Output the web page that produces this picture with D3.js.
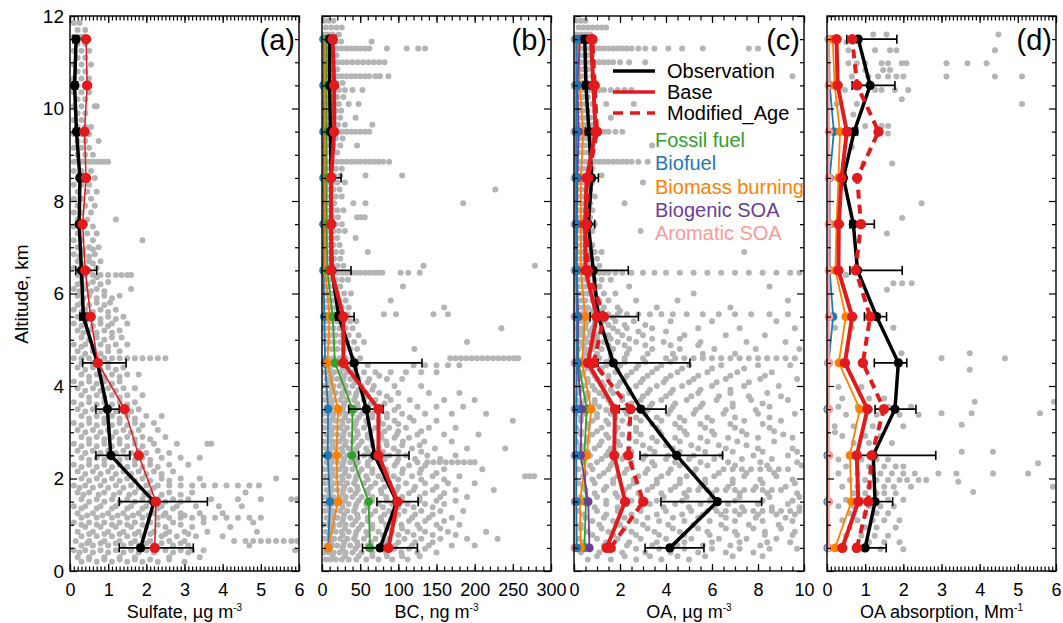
<!DOCTYPE html>
<html>
<head>
<meta charset="utf-8">
<script src="https://cdn.jsdelivr.net/npm/d3@7"></script>
<style>
  body { margin: 0; background: #fff; }
  svg { font-family: "Liberation Sans", Arial, sans-serif; }
</style>
</head>
<body>
<div id="chart-area"></div>
<script>
// altitude bins, km
const altitudes = [0.5, 1.5, 2.5, 3.5, 4.5, 5.5, 6.5, 7.5, 8.5, 9.5, 10.5, 11.5];

// (a) sulfate, ug m-3
const sulfateObs  = [1.85, 2.2, 1.07, 0.98, 0.72, 0.35, 0.3, 0.24, 0.26, 0.17, 0.12, 0.16];
const sulfateLo   = [1.29, 1.29, 0.68, 0.68, 0.33, 0.26, 0.15, 0.2, 0.2, 0.12, 0.06, 0.08];
const sulfateHi   = [3.23, 3.6, 1.57, 1.29, 1.47, 0.45, 0.7, 0.32, 0.35, 0.24, 0.2, 0.22];
const sulfateBase = [2.22, 2.25, 1.8, 1.43, 0.73, 0.54, 0.4, 0.33, 0.42, 0.38, 0.45, 0.42];

// (b) BC, ng m-3
const bcObs     = [76, 98, 69, 58, 42, 22, 13, 12, 12, 11, 10, 10];
const bcLo      = [53, 72, 48, 35, 30, 18, 10, 9, 9, 9, 8, 8];
const bcHi      = [125, 126, 114, 80, 131, 42, 38, 15, 25, 15, 14, 18];
const bcBase    = [87, 99, 74, 74, 28, 28, 12, 12, 12, 16, 16, 14];
const bcFossil  = [63, 61, 39, 40, 17, 14, 7, 6, 6, 6, 6, 6];
const bcBiofuel = [8, 10.5, 7.5, 8, 4, 3, 2, 2, 2, 2, 2, 2];
const bcBiomass = [8, 21, 19, 21, 7, 10, 4, 4, 4, 4, 4, 4];

// (c) OA, ug m-3
const oaObs       = [4.17, 6.23, 4.46, 2.91, 1.71, 1.06, 0.84, 0.62, 0.77, 0.65, 0.52, 0.47];
const oaLo        = [3.09, 3.78, 2.87, 1.97, 1.05, 0.7, 0.5, 0.45, 0.55, 0.5, 0.4, 0.35];
const oaHi        = [5.65, 8.16, 6.46, 4.0, 5.04, 2.8, 2.36, 0.9, 1.06, 0.85, 0.7, 0.6];
const oaBase      = [1.42, 2.22, 1.75, 1.78, 0.6, 0.99, 0.5, 0.48, 0.55, 0.94, 0.84, 0.74];
const oaModAge    = [1.59, 3.01, 2.36, 2.46, 0.86, 1.3, 0.6, 0.55, 0.62, 1.0, 0.9, 0.8];
const oaFossil    = [0.45, 0.52, 0.45, 0.55, 0.2, 0.15, 0.1, 0.1, 0.1, 0.1, 0.1, 0.1];
const oaBiofuel   = [0.12, 0.1, 0.1, 0.1, 0.12, 0.12, 0.1, 0.1, 0.1, 0.1, 0.12, 0.12];
const oaBiomass   = [0.3, 0.25, 0.55, 0.75, 0.35, 0.48, 0.3, 0.3, 0.3, 0.4, 0.25, 0.2];
const oaBiogenic  = [0.67, 0.62, 0.29, 0.33, 0.15, 0.18, 0.12, 0.12, 0.15, 0.2, 0.15, 0.26];
const oaAromatic  = [0.03, 0.03, 0.03, 0.03, 0.03, 0.03, 0.03, 0.03, 0.03, 0.03, 0.03, 0.03];

// (d) OA absorption, Mm-1
const absObs      = [1.0, 1.26, 1.21, 1.78, 1.87, 1.3, 0.8, 0.69, 0.43, 0.71, 1.13, 0.82];
const absLo       = [0.72, 1.04, 0.82, 1.26, 1.24, 0.98, 0.6, 0.6, 0.38, 0.6, 0.66, 0.52];
const absHi       = [1.55, 1.72, 2.85, 2.33, 2.09, 1.56, 1.97, 1.24, 0.5, 0.8, 1.78, 1.83];
const absBase     = [0.4, 0.82, 0.78, 1.06, 0.47, 0.66, 0.3, 0.31, 0.38, 0.52, 0.28, 0.25];
const absModAge   = [0.78, 1.08, 1.17, 1.49, 0.94, 1.13, 0.75, 0.89, 0.79, 1.35, 0.79, 0.66];
const absBiofuel  = [0.02, 0.02, 0.02, 0.02, 0.04, 0.16, 0.07, 0.07, 0.07, 0.18, 0.07, 0.05];
const absBiomass  = [0.21, 0.64, 0.6, 0.86, 0.31, 0.49, 0.22, 0.25, 0.3, 0.34, 0.2, 0.15];
const absAromatic = [0.05, 0.05, 0.05, 0.05, 0.05, 0.05, 0.05, 0.05, 0.05, 0.05, 0.05, 0.05];

// individual observations, "altitude: values"
const sulfateDots = `
0.2: 0.3 0.7 1.1 1.5 1.9 2.3 3.0
0.3: 0.2 0.5 0.9 1.3 1.7 2.6 3.4
0.45: 0.1 0.4 0.8 1.2 1.6 2.0 2.5 2.9 3.2 3.5 5.9
0.55: 0.3 0.6 1.0 1.4 1.8 2.2 2.7 3.1 4.7
0.65: 0.15 0.5 0.9 1.3 1.7 2.1 2.6 3.0 4.3 4.6 4.8 5.0 5.2 5.4 5.6 5.8 5.95
0.75: 0.3 0.7 1.1 1.5 1.9 2.4 2.8 3.3 4.0
0.85: 0.2 0.6 1.0 1.4 1.8 2.2 2.6 3.0 3.6 4.9
0.95: 0.4 0.8 1.2 1.6 2.0 2.5 3.2 4.2
1.05: 0.1 0.5 0.9 1.3 1.7 2.1 2.7 3.5 4.8
1.15: 0.3 0.7 1.1 1.5 1.9 2.3 2.6 2.9 3.2 3.5 3.8 4.1 4.4 4.7 5.0
1.25: 0.2 0.6 1.0 1.4 1.8 2.2 2.5 2.9 3.4 4.0
1.4: 0.1 0.4 0.8 1.2 1.6 2.0 2.4 2.8 3.3 3.9 4.5
1.55: 0.3 0.7 1.1 1.5 1.9 2.3 2.7 3.1 3.7 4.4 5.0 5.8 5.95
1.7: 0.2 0.5 0.9 1.3 1.7 2.1 2.6 3.2 4.6
1.85: 0.1 0.4 0.8 1.2 1.6 2.0 2.3 2.6 2.9 3.2 3.5 3.8 4.1 4.4 4.7 4.95
2.0: 0.3 0.7 1.1 1.5 1.9 2.4 2.9 3.4 5.4
2.15: 0.2 0.6 1.0 1.4 1.8 2.2 2.7
2.3: 0.1 0.5 0.9 1.3 1.7 2.1 2.6 3.1
2.45: 0.3 0.7 1.1 1.5 1.9 2.4 2.9 3.4
2.6: 0.2 0.6 1.0 1.4 1.8 2.3
2.75: 0.1 0.5 0.9 1.3 1.7 2.2 2.8 3.6 3.7
2.9: 0.3 0.7 1.1 1.5 1.9 2.5
3.05: 0.2 0.6 1.0 1.4 1.8 2.3
3.2: 0.1 0.5 0.9 1.3 1.7 2.2
3.35: 0.3 0.7 1.1 1.5 2.0 2.4
3.5: 0.2 0.6 1.0 1.4 1.8
3.65: 0.1 0.5 0.9 1.3 1.7
3.8: 0.3 0.7 1.1 1.5 1.9
3.95: 0.2 0.6 1.0 1.4 1.7
4.1: 0.1 0.5 0.9 1.3
4.25: 0.3 0.7 1.1 1.5 1.8
4.4: 0.2 0.6 1.0 1.4
4.6: 0.1 0.3 0.5 0.7 0.9 1.1 1.3 1.5 1.7 1.9 2.1 2.3 2.5
4.75: 0.2 0.6 1.0 1.3
4.9: 0.1 0.4 0.8 1.2 1.5
5.05: 0.3 0.7 1.1 1.35
5.2: 0.2 0.5 0.9 1.3
5.35: 0.1 0.4 0.8 1.1 1.5
5.5: 0.2 0.6 1.0 1.4
5.65: 0.1 0.4 0.8 1.2
5.8: 0.3 0.7 1.05
5.95: 0.2 0.5 0.9 1.3
6.1: 0.1 0.4 0.7 1.6
6.25: 0.3 0.6 1.0
6.4: 0.2 0.4 0.6 0.8 1.0 1.2 1.35 1.5 1.6
6.55: 0.1 0.4 0.7
6.7: 0.2 0.5 0.8
6.85: 0.1 0.35 0.65
7.0: 0.2 0.5 0.75
7.15: 0.1 0.3 0.6 1.9
7.3: 0.2 0.45 0.7
7.45: 0.1 0.35 0.6
7.6: 0.2 0.45 1.2
7.75: 0.1 0.3 0.55
7.9: 0.2 0.4 0.65
8.05: 0.1 0.3 0.55
8.2: 0.2 0.45 0.7
8.35: 0.1 0.3 0.5
8.5: 0.2 0.4 0.65
8.65: 0.1 0.3 0.55
8.85: 0.1 0.2 0.3 0.4 0.5 0.6 0.7 0.8 0.9 1.0
9.0: 0.2 0.4 0.6
9.15: 0.1 0.3 0.5
9.3: 0.2 0.4 0.75
9.45: 0.1 0.3 0.5
9.6: 0.2 0.4 0.55
9.75: 0.1 0.3
9.9: 0.2 0.4
10.05: 0.1 0.3 0.65 0.7
10.2: 0.2 0.4
10.35: 0.1 0.3 0.5
10.5: 0.2 0.4
10.65: 0.1 0.3 0.5
10.8: 0.2 0.4
10.95: 0.1 0.3 0.55
11.1: 0.2 0.4
11.25: 0.1 0.3 0.5
11.4: 0.2 0.4
11.55: 0.1 0.3
11.7: 0.2 0.4
11.85: 0.1 0.25`;

const sulfateDotsMore = `
0.25: 0.5 0.9 1.3 1.7 2.1 2.6
0.4: 0.25 0.6 1.0 1.4 1.8 2.2 2.7 3.1
0.6: 0.45 0.8 1.2 1.6 2.0 2.4 2.9
0.8: 0.5 0.9 1.3 1.7 2.1 2.5 3.1
1.0: 0.3 0.7 1.1 1.5 1.9 2.3 2.9
1.2: 0.45 0.85 1.25 1.65 2.05 2.45 3.0
1.35: 0.3 0.7 1.1 1.5 1.9 2.3 2.7
1.5: 0.5 0.9 1.3 1.7 2.1 2.5 2.9
1.65: 0.35 0.75 1.15 1.55 1.95 2.4 2.9
1.8: 0.25 0.6 1.0 1.4 1.8 2.2
1.95: 0.5 0.9 1.3 1.7 2.1 2.6
2.1: 0.4 0.8 1.2 1.6 2.0 2.4
2.25: 0.3 0.7 1.1 1.5 1.9 2.3
2.4: 0.5 0.9 1.3 1.7 2.1
2.55: 0.4 0.8 1.2 1.6 2.0 2.6
2.7: 0.3 0.7 1.1 1.5 1.9
2.85: 0.5 0.9 1.3 1.7 2.1
3.0: 0.4 0.8 1.2 1.6
3.15: 0.3 0.7 1.1 1.5 1.9
3.3: 0.5 0.9 1.3 1.7
3.45: 0.4 0.8 1.2 1.6
3.6: 0.3 0.7 1.1 1.5
3.75: 0.5 0.9 1.3
3.9: 0.4 0.8 1.2
4.05: 0.3 0.7 1.1
4.2: 0.5 0.9 1.3
4.35: 0.4 0.8 1.2
4.5: 0.3 0.6 1.0
4.7: 0.4 0.8
4.85: 0.3 0.6 1.0
5.0: 0.5 0.9
5.15: 0.35 0.7 1.1
5.3: 0.3 0.6 1.0
5.45: 0.4 0.8 1.2
5.6: 0.3 0.6 1.0
5.75: 0.2 0.5 0.9
5.9: 0.35 0.7 1.1
6.05: 0.25 0.55 0.9
6.2: 0.2 0.45 0.8
6.35: 0.3 0.7
6.5: 0.25 0.5
6.65: 0.3 0.6
6.8: 0.25 0.5
6.95: 0.35 0.6`;

const bcDots = `
0.25: 5 11 18 26 35 45 58 74 92 112
0.4: 2 8 15 23 31 40 52 66 84 104 125 150
0.55: 6 13 20 28 37 47 60 77 96 118 140 170 200
0.7: 3 9 16 24 33 42 55 70 88 108 130 155 190 230
0.85: 5 11 18 26 35 45 58 74 92 112 135 165 215
1.0: 2 8 15 23 31 40 52 66 84 104 125 150 180
1.15: 6 13 20 28 37 47 60 77 96 118 140 170
1.3: 3 9 16 24 33 42 55 70 88 108 130 155 185
1.45: 5 11 18 26 35 45 58 74 92 112 135 160
1.6: 2 8 15 23 31 40 52 66 84 105 128 155 190
1.75: 6 13 20 28 37 47 60 77 98 120 145 175 225
1.9: 3 9 16 24 33 42 55 70 88 110 135 165 200
2.05: 5 11 18 26 35 45 58 74 94 118 145 180 266 272 278
2.2: 2 8 15 23 31 40 52 66 84 106 130 160 210
2.35: 6 13 20 28 37 47 60 77 98 125 138 146 154 162 170 178 186 194 200
2.5: 3 9 16 24 33 42 55 70 88 110 138 175
2.65: 5 11 18 26 35 45 58 74 94 118 148 190 240
2.8: 2 8 15 23 31 40 52 66 84 106 134 170
2.95: 6 13 20 28 37 47 60 77 98 125 160 205
3.1: 3 9 16 24 33 42 55 70 88 110 140 175
3.25: 5 11 18 26 35 45 58 74 95 120 150 250
3.4: 2 8 15 23 31 40 52 66 85 105 135 170 215
3.55: 6 13 20 28 37 47 60 78 100 125 150 185
3.7: 3 9 16 24 33 42 55 70 90 115 160 200
3.85: 5 11 18 26 35 45 58 75 100 140 180
4.0: 2 8 15 23 31 40 52 68 95 130
4.15: 6 13 20 28 37 48 62 85 105
4.3: 3 9 16 24 33 42 55 70 90 110 130 150
4.45: 5 11 18 26 35 44 60 120 135 150 165 180
4.6: 2 8 15 23 31 40 50 168 175 182 189 196 203 210 217 224 231 238 245 252 257
4.8: 6 13 20 28 37 46 121
4.95: 3 9 16 24 33 42 55 190
5.1: 5 11 18 26 35 48
5.25: 2 8 15 23 31 40 235
5.4: 6 13 20 28 37 45
5.55: 3 9 16 24 33 81 97 146 165
5.7: 5 11 18 26 35 160
5.85: 2 8 15 23 31 90
6.0: 6 13 20 29 38
6.15: 3 9 16 24 106
6.3: 5 11 18 26 34
6.45: 2 8 14 20 26 32 38 44 50 56 62 68 74 79 103 113 128
6.6: 6 13 20 28 133 279
6.75: 3 9 16 24
6.9: 5 11 18 26 60
7.05: 2 8 15 23
7.2: 6 13 20 44
7.35: 3 9 15 22 30
7.5: 5 11 18 26
7.65: 2 8 14 21 46 51 56
7.8: 6 13 20 28
7.95: 3 9 16 41 57 185
8.1: 5 11 18 26
8.25: 2 8 15 23 227
8.4: 6 13 20 30
8.55: 3 9 16 24 57 105
8.7: 5 11 18 26
8.85: 2 8 14 20 26 32 38 44 50 56 62 68 74 80 88
9.05: 6 13 20
9.2: 3 9 15 24 46
9.35: 5 11 18 27
9.5: 2 8 14 20 26 32 38 44 50 56 62
9.65: 6 13 21 30 66
9.8: 3 9 16 24 44
9.95: 5 11 18 25
10.1: 2 8 14 22 35 48
10.25: 6 13 20 28
10.4: 3 9 15 22 30 40 53
10.55: 5 12 19 27
10.7: 2 8 14 20 26 32 38 44 50 56 62 70 76 87
10.85: 6 13 20
11.0: 3 9 15 21 27 33 40 47 54 61 68 75 82
11.15: 5 12 19
11.3: 2 8 14 20 26 32 38 44 50 56 62 85 111 126 135
11.45: 4 11 18 25 65
11.6: 2 8 14 22
11.75: 5 12 19 26
11.9: 3 9 15`;

const bcDotsMore = `
0.32: 14 30 48 66 85 105 128
0.48: 10 27 44 60 78 95 114 135
0.62: 12 29 46 64 82 100 122 145
0.78: 10 27 44 60 80 100 120 145 175
0.92: 14 30 48 66 85 105 128 155
1.08: 10 27 44 60 78 95 114 135 160
1.22: 12 29 46 64 82 100 122 145
1.38: 10 27 44 60 80 100 120 145
1.52: 14 30 48 66 85 105 128 150 175
1.68: 10 27 44 60 78 95 114 135 160
1.82: 12 29 46 64 82 100 122 150
1.98: 10 27 44 60 80 100 130 160
2.12: 14 30 48 66 85 105 128 150
2.28: 10 27 44 60 78 95 114 135
2.42: 12 29 46 64 82 100 122 155
2.58: 10 27 44 60 80 100 130
2.72: 14 30 48 66 85 105 128
2.88: 10 27 44 60 78 95 114
3.02: 12 29 46 64 82 100 130
3.18: 10 27 44 60 80 100
3.32: 14 30 48 66 85 115
3.48: 10 27 44 60 78 95
3.62: 12 29 46 64 82
3.78: 10 27 44 60 85
3.92: 14 30 48 66
4.08: 10 27 44 60
4.22: 12 29 46 75
4.38: 10 27 44
4.52: 14 30 45`;

const oaDots = `
0.25: 0.6 1.6 2.7 3.8 5.0
0.4: 0.3 1.1 2.1 3.1 4.2 5.4 6.6 7.8
0.55: 0.5 1.3 2.3 3.4 4.5 5.6 6.8 8.1
0.7: 0.2 1.0 1.9 2.9 4.0 5.1 6.3 7.5 8.8
0.85: 0.6 1.5 2.5 3.5 4.6 5.8 7.0 8.3 9.6
1.0: 0.3 1.1 2.0 3.0 4.1 5.2 6.4 7.6 8.9
1.15: 0.5 1.3 2.2 3.2 4.3 5.4 6.6 7.9 9.2
1.3: 0.2 1.0 1.9 2.9 4.0 5.1 5.8 6.2 6.6 7.0 7.4 7.8 8.2 8.6 9.0 9.4 9.8
1.45: 0.6 1.4 2.3 3.3 4.4 5.5 6.7 8.0 9.3
1.6: 0.3 1.0 1.9 2.9 3.9 4.9 6.0 7.2 8.5 9.8
1.75: 0.5 1.3 2.2 3.2 4.2 5.0 5.4 5.8 6.2 6.6 7.0 7.4 7.8 8.2 8.6 9.0
1.9: 0.2 0.9 1.7 2.6 3.6 4.6 5.7 6.9 8.2 9.6
2.05: 0.4 1.1 1.9 2.8 3.8 4.9 6.1 7.4 8.8
2.2: 0.2 0.8 1.5 2.3 3.2 4.2 5.3 6.5 6.9 7.3 7.7 8.1 8.5 8.9 9.3
2.35: 0.4 1.0 1.7 2.5 3.4 4.4 5.5 6.7 8.1 9.7
2.5: 0.1 0.7 1.4 2.2 3.1 4.1 5.2 6.4 7.8 9.3
2.65: 0.3 0.9 1.6 2.4 3.3 4.3 5.4 6.6 8.0 9.5
2.8: 0.1 0.6 1.2 1.9 2.7 3.6 4.6 5.8 7.1 8.7
2.95: 0.3 0.8 1.4 2.1 2.9 3.8 4.9 6.1 7.5 9.1
3.1: 0.1 0.6 1.2 1.9 2.7 3.6 4.6 5.7 7.0 8.5
3.25: 0.3 0.8 1.4 2.1 2.9 3.8 4.8 6.0 7.4 9.0
3.4: 0.1 0.5 1.0 1.6 2.3 3.1 4.1 5.2 6.5 8.0 9.6
3.55: 0.2 0.6 1.1 1.7 2.4 3.3 4.3 5.5 6.9 8.5
3.7: 0.1 0.5 0.9 1.5 2.1 2.9 3.8 4.9 6.2 7.7 9.3
3.85: 0.2 0.6 1.1 1.7 2.4 3.2 4.2 5.4 6.8 8.4
4.0: 0.1 0.4 0.8 1.3 1.9 2.7 3.6 4.7 6.0 7.4 8.9
4.15: 0.2 0.6 1.0 1.5 2.2 3.0 4.0 5.2 6.6 8.1 9.7
4.3: 0.1 0.4 0.8 1.2 1.8 2.5 3.4 4.5 5.8 7.1 8.6
4.45: 0.2 0.5 0.9 1.4 2.0 2.8 3.8 5.0 6.4 8.0 9.4
4.6: 0.1 0.4 0.7 1.1 1.6 2.2 3.0 4.0 4.4 4.8 5.2 5.6 6.0 6.4 6.8 7.2 7.6 8.0 8.4 8.8 9.2 9.6
4.8: 0.2 0.5 0.8 1.2 1.7 2.4 3.4 4.6 6.1 7.9 9.8
4.95: 0.1 0.3 0.6 0.9 1.3 1.9 2.7 3.9 5.5 7.5 9.2
5.1: 0.2 0.4 0.7 1.0 1.5 2.1 3.0 4.8 6.6 8.3
5.25: 0.1 0.3 0.5 0.8 1.2 1.7 2.3 3.4 5.4 7.2 9.6
5.4: 0.2 0.4 0.6 0.9 1.3 1.8 2.6 4.2 6.0 8.8
5.55: 0.1 0.3 0.5 0.7 0.9 1.2 1.5 1.9 2.3 2.8 3.3 3.8 4.3 4.9 5.6 6.3 7.0 7.7 8.5 9.3
5.7: 0.2 0.4 0.6 0.9 1.3 1.9 3.6 6.8
5.85: 0.1 0.3 0.5 0.8 1.1 1.5 2.7 4.5 9.3
6.0: 0.2 0.4 0.6 0.9 1.3 1.8 5.2
6.15: 0.1 0.3 0.5 0.8 1.1 2.4 8.5
6.3: 0.2 0.4 0.6 0.9 1.2 1.6
6.45: 0.1 0.3 0.5 0.7 0.9 1.1 1.3 1.5 1.8 2.1 2.5 3.0 3.5 4.0 4.6 5.2 5.8 6.4 7.0 7.6 8.2 8.8 9.4 9.8
6.6: 0.2 0.4 0.6 0.8 1.1
6.75: 0.1 0.3 0.5 0.7 1.0
6.9: 0.2 0.4 0.6 0.9 1.2 7.4
7.05: 0.1 0.3 0.5 0.8
7.2: 0.2 0.4 0.6
7.35: 0.1 0.3 0.5 0.8 2.9
7.5: 0.2 0.4 0.6 0.9
7.65: 0.1 0.3 0.5 0.7
7.8: 0.2 0.4 0.6 0.8
7.95: 0.1 0.3 0.5 0.7 2.2
8.1: 0.2 0.4 0.6 0.9
8.25: 0.1 0.3 0.5 0.7
8.4: 0.2 0.4 0.6 0.8 3.0
8.55: 0.1 0.3 0.5 0.7 1.2
8.7: 0.2 0.4 0.6 0.8
8.85: 0.1 0.3 0.5 0.7 0.9 1.1 1.3 1.5 1.7 1.9 2.1 2.3 2.5 2.8 3.2
9.05: 0.2 0.4 0.6
9.2: 0.1 0.3 0.5 0.7 3.4
9.35: 0.2 0.4 0.6 0.8
9.5: 0.1 0.3 0.5 0.7 0.9 1.1 1.3 1.5 1.8 2.1
9.65: 0.2 0.4 0.6 0.8
9.8: 0.1 0.3 0.5 0.7 1.6
9.95: 0.2 0.4 0.6 0.9
10.1: 0.1 0.3 0.5 0.8 1.4 2.6
10.25: 0.2 0.4 0.6
10.4: 0.1 0.3 0.5 0.7 0.9 1.1 1.3 1.6 1.9 2.2 2.5
10.55: 0.2 0.4 0.6 0.9
10.7: 0.1 0.3 0.5 0.8 9.5
10.85: 0.2 0.4 0.6
11.0: 0.1 0.3 0.5 0.7 0.9 1.1 1.3 1.5 1.7 2.0 2.4 3.1
11.15: 0.2 0.4 0.6 0.8
11.3: 0.1 0.3 0.5 0.7 0.9 1.1 1.3 1.5 1.7 1.9 2.1 2.3 2.5 2.8 3.1 3.5 4.1 4.7 5.6 7.6 8.0
11.45: 0.2 0.4 0.6 0.9
11.6: 0.1 0.3 0.5 0.7
11.75: 0.2 0.4 0.6 0.8 1.0 1.2 1.4
11.9: 0.1 0.3 0.5`;

const oaDotsMore = `
0.32: 1.0 2.2 3.3 4.5 5.7 6.9 8.2
0.48: 0.7 1.7 2.7 3.7 4.8 6.0 7.2 8.5 9.7
0.62: 0.4 1.4 2.4 3.6 4.8 6.0 7.2 8.4 9.4
0.78: 0.8 1.7 2.7 3.7 4.8 5.9 7.1 8.3 9.5
0.92: 0.3 1.2 2.2 3.2 4.3 5.4 6.6 7.8 9.0
1.08: 0.8 1.7 2.7 3.7 4.8 5.9 7.0 8.2 9.5
1.22: 0.4 1.4 2.5 3.6 4.7 5.6 6.4 7.2 8.0 8.8 9.6
1.38: 0.9 1.9 2.9 3.9 5.0 6.1 7.3 8.6 9.8
1.52: 0.4 1.4 2.5 3.6 4.7 5.9 7.0 8.2 9.5
1.68: 0.9 1.8 2.8 3.8 4.8 6.0 7.2 8.4 9.7
1.82: 0.4 1.4 2.4 3.4 4.4 5.5 6.7 7.9 9.2
1.98: 0.8 1.7 2.6 3.6 4.6 5.7 6.9 8.1 9.5
2.12: 0.5 1.3 2.2 3.1 4.1 5.2 6.3 7.5 8.7
2.28: 0.7 1.6 2.5 3.5 4.6 5.8 7.0 8.4 9.9
2.42: 0.4 1.2 2.1 3.0 4.0 5.0 6.1 7.3 8.6
2.58: 0.6 1.5 2.5 3.5 4.6 5.7 6.9 8.2 9.7
2.72: 0.3 1.1 2.0 3.0 4.0 5.1 6.3 7.5
2.88: 0.6 1.5 2.4 3.4 4.4 5.5 6.7 8.0 9.5
3.02: 0.3 1.0 1.8 2.7 3.7 4.8 6.0 7.3 8.7
3.18: 0.6 1.5 2.4 3.4 4.4 5.5 6.8 8.2
3.32: 0.3 1.0 1.8 2.7 3.6 4.6 5.8 7.0 8.5
3.48: 0.6 1.4 2.2 3.2 4.2 5.3 6.6 7.9
3.62: 0.3 0.9 1.6 2.5 3.4 4.4 5.6 6.9 8.2
3.78: 0.6 1.3 2.1 3.0 4.0 5.1 6.3 7.6 9.0
3.92: 0.3 0.9 1.6 2.4 3.3 4.3 5.5 6.8
4.08: 0.6 1.2 2.0 2.9 3.9 5.0 6.2 7.6
4.22: 0.3 0.9 1.5 2.3 3.2 4.2 5.4 6.8 8.3
4.38: 0.6 1.2 1.9 2.7 3.6 4.7 6.0 7.4
4.52: 0.3 0.8 1.4 2.2 3.1 4.2
4.7: 0.5 1.0 1.6 2.3 3.2 4.3 5.6 7.0
4.88: 0.4 0.9 1.5 2.2 3.1 4.2 5.4
5.02: 0.5 1.0 1.6 2.4 3.4 4.6
5.18: 0.3 0.7 1.2 1.9 2.8 4.0
5.32: 0.5 0.9 1.5 2.2 3.1
5.48: 0.2 0.6 1.1 1.7
5.62: 0.5 0.8 1.2 2.0`;

const absDots = `
0.47: 1.0 1.4 2.0
0.62: 1.1 1.5 1.9
0.76: 0.5 0.9 1.25 1.6
0.94: 0.6 1.0 1.3 1.8
1.1: 0.4 0.8 1.2 1.5 1.9
1.25: 0.6 1.0 1.3 1.6
1.4: 0.3 0.7 1.1 1.4 1.75
1.54: 0.5 0.9 1.2 1.6 2.0
1.68: 0.7 1.0 1.3 1.5 1.8
1.71: 3.83
1.82: 0.4 0.8 1.1 1.5 1.75 2.2 5.92
1.93: 3.44
1.97: 0.6 1.0 1.3 1.6 1.9 2.1 2.4 2.6
2.11: 0.3 0.8 1.2 1.4 1.7 2.0 2.3 2.92 3.39 4.35 5.27
2.26: 0.5 1.1 1.5 1.8 2.0
2.33: 5.53
2.41: 0.3 0.9 1.3 1.6
2.58: 3.53 4.35
2.77: 0.7 1.1 1.7
2.92: 0.4 1.0 1.4
3.0: 0.21
3.13: 0.2 0.7 1.2 2.0
3.16: 3.53
3.38: 0.5 1.3 1.9 2.4
3.41: 3.0 3.79 5.58
3.55: 0.3 0.8 1.6 2.2
3.66: 3.87 5.95
3.73: 0.4 1.1 1.5
3.98: 0.3 0.9
4.35: 3.74
4.6: 3.0 4.66
4.71: 1.95 3.74
5.26: 0.21 0.65 1.74
6.08: 1.57
6.22: 1.74 1.97 2.22
6.4: 0.5
7.3: 1.57
7.63: 1.97
7.95: 2.48
8.81: 0.95 1.71
9.17: 0.65
9.46: 1.6
9.62: 1.0 1.43 1.6
9.87: 0.69
10.1: 0.25 0.78 5.11
10.2: 1.96
10.4: 0.47 1.26 1.43 1.78 2.13
10.69: 0.65 1.08 1.34 1.6 1.82 2.0 3.13 4.4 5.11
10.83: 1.0 1.47 1.65
10.98: 0.56 0.78 1.0 1.43 1.6 1.96 2.08 3.13 3.68 4.18
11.26: 0.56 1.26 1.65 1.82 4.4
11.44: 0.51 0.69
11.6: 1.21 1.56 4.49`;

const RED = '#e31a1c', GREEN = '#33a02c', BLUE = '#1f78b4', ORANGE = '#ff7f00',
  PURPLE = '#6a3d9a', PINK = '#fb9a99', GRAY = '#b4b4b4';

function parseDots(txt) {
  let pts = [];
  txt.split('\n').filter(line => line.indexOf(':') > 0).forEach(line => {
    let parts = line.split(':');
    parts[1].trim().split(/\s+/).forEach(v => pts.push({alt: +parts[0], v: +v}));
  });
  return pts;
}

const panels = [
  { left: 70, right: 299, domain: [0, 6], major: d3.range(0, 6.001, 1), minor: d3.range(0, 6.001, 0.1),
    title: 'Sulfate, µg m', sup: '-3', label: '(a)', dots: sulfateDots + '\n' + sulfateDotsMore,
    sources: [], obs: [sulfateObs, sulfateLo, sulfateHi], base: sulfateBase, baseWidth: 1.5, mod: null },
  { left: 322, right: 551, domain: [0, 300], major: d3.range(0, 300.1, 50), minor: d3.range(0, 300.1, 10),
    title: 'BC, ng m', sup: '-3', label: '(b)', dots: bcDots + '\n' + bcDotsMore,
    sources: [[bcBiofuel, BLUE], [bcBiomass, ORANGE], [bcFossil, GREEN]],
    obs: [bcObs, bcLo, bcHi], base: bcBase, baseWidth: 4, mod: null },
  { left: 574, right: 804, domain: [0, 10], major: d3.range(0, 10.01, 2), minor: d3.range(0, 10.01, 0.5),
    title: 'OA, µg m', sup: '-3', label: '(c)', dots: oaDots + '\n' + oaDotsMore,
    sources: [[oaAromatic, PINK], [oaFossil, GREEN], [oaBiomass, ORANGE], [oaBiogenic, PURPLE], [oaBiofuel, BLUE]],
    obs: [oaObs, oaLo, oaHi], base: oaBase, baseWidth: 4, mod: oaModAge },
  { left: 827, right: 1056, domain: [0, 6], major: d3.range(0, 6.001, 1), minor: d3.range(0, 6.001, 0.1),
    title: 'OA absorption, Mm', sup: '-1', label: '(d)', dots: absDots,
    sources: [[absBiofuel, BLUE], [absAromatic, PINK], [absBiomass, ORANGE]],
    obs: [absObs, absLo, absHi], base: absBase, baseWidth: 4, mod: absModAge }
];

const plotTop = 16, plotBottom = 571;

let svg = d3.select('#chart-area')
  .append('svg')
  .attr('width', 1063)
  .attr('height', 623);

let y = d3.scaleLinear().domain([0, 12]).range([plotBottom, plotTop]);

panels.forEach((p, pi) => {
  let x = d3.scaleLinear().domain(p.domain).range([p.left, p.right]);
  let g = svg.append('g');

  // clip for the gray dots
  svg.append('clipPath').attr('id', 'clip' + pi)
    .append('rect')
    .attr('x', p.left).attr('y', plotTop)
    .attr('width', p.right - p.left).attr('height', plotBottom - plotTop);

  g.append('g')
    .attr('clip-path', 'url(#clip' + pi + ')')
    .selectAll('circle')
    .data(parseDots(p.dots))
    .enter().append('circle')
    .attr('cx', d => x(d.v))
    .attr('cy', d => y(d.alt))
    .attr('r', 3)
    .attr('fill', GRAY);

  let line = d3.line().x(d => x(d[0])).y(d => y(d[1]));
  const pairs = vals => vals.map((v, i) => [v, altitudes[i]]);

  function profile(vals, color, width, r, dash) {
    g.append('path')
      .attr('d', line(pairs(vals)))
      .attr('fill', 'none')
      .attr('stroke', color)
      .attr('stroke-width', width)
      .attr('stroke-dasharray', dash || null);
    g.append('g').selectAll('circle')
      .data(pairs(vals))
      .enter().append('circle')
      .attr('cx', d => x(d[0]))
      .attr('cy', d => y(d[1]))
      .attr('r', r)
      .attr('fill', color);
  }

  p.sources.forEach(s => profile(s[0], s[1], 1.8, 4.3));

  // error bars
  let eb = g.append('g').attr('stroke', '#000').attr('stroke-width', 1.6);
  altitudes.forEach((a, i) => {
    let x0 = x(p.obs[1][i]), x1 = x(p.obs[2][i]), yy = y(a);
    eb.append('line').attr('x1', x0).attr('x2', x1).attr('y1', yy).attr('y2', yy);
    eb.append('line').attr('x1', x0).attr('x2', x0).attr('y1', yy - 4.5).attr('y2', yy + 4.5);
    eb.append('line').attr('x1', x1).attr('x2', x1).attr('y1', yy - 4.5).attr('y2', yy + 4.5);
  });

  profile(p.obs[0], '#000', 3.5, 4.6);
  profile(p.base, RED, p.baseWidth, 5.2);
  if (p.mod) profile(p.mod, RED, 4, 5.2, '9,6');

  // axes with inward ticks
  const axis = (gen, sel, values, size, labels) => {
    let a = gen.tickValues(values).tickSize(size).tickPadding(labels ? 12 : 0);
    a.tickFormat(labels ? d3.format('d') : '');
    let ag = g.append('g').attr('transform', sel).call(a);
    ag.select('.domain').remove();
    ag.selectAll('line').attr('stroke', '#000').attr('stroke-width', 1.2);
    ag.selectAll('text').attr('font-size', 18).attr('fill', '#000');
    return ag;
  };
  axis(d3.axisBottom(x), `translate(0,${plotBottom})`, p.minor, -4.5, false);
  axis(d3.axisBottom(x), `translate(0,${plotBottom})`, p.major, -7, true);
  axis(d3.axisTop(x), `translate(0,${plotTop})`, p.minor, -4.5, false);
  axis(d3.axisTop(x), `translate(0,${plotTop})`, p.major, -7, false);

  let yMinor = d3.range(0.5, 12, 1).concat(d3.range(1, 12, 2));
  let yMajor = d3.range(0, 12.01, 2);
  axis(d3.axisLeft(y), `translate(${p.left},0)`, yMinor, -4, false);
  let yl = axis(d3.axisLeft(y), `translate(${p.left},0)`, yMajor, -7, pi === 0);
  if (pi === 0) yl.selectAll('text').attr('x', -6).attr('font-size', 19);
  axis(d3.axisRight(y), `translate(${p.right},0)`, yMinor, -4, false);
  axis(d3.axisRight(y), `translate(${p.right},0)`, yMajor, -7, false);

  g.append('rect')
    .attr('x', p.left).attr('y', plotTop)
    .attr('width', p.right - p.left).attr('height', plotBottom - plotTop)
    .attr('fill', 'none').attr('stroke', '#000').attr('stroke-width', 1.4);

  // panel label
  g.append('text')
    .attr('x', p.right - 4).attr('y', 50)
    .attr('text-anchor', 'end')
    .attr('font-size', 29)
    .text(p.label);

  // x title
  let t = g.append('text')
    .attr('x', (p.left + p.right) / 2).attr('y', 618)
    .attr('text-anchor', 'middle')
    .attr('font-size', 18);
  t.append('tspan').text(p.title);
  t.append('tspan').attr('font-size', 10).attr('dy', -7).text(p.sup);
});

svg.append('text')
  .attr('transform', 'translate(28,294) rotate(-90)')
  .attr('text-anchor', 'middle')
  .attr('font-size', 19)
  .text('Altitude, km');

// legend in panel (c)
const legendLines = [['Observation', '#000', null], ['Base', RED, null], ['Modified_Age', RED, '10,7']];
const legendSources = [['Fossil fuel', GREEN], ['Biofuel', BLUE], ['Biomass burning', ORANGE],
  ['Biogenic SOA', PURPLE], ['Aromatic SOA', PINK]];

let legend = svg.append('g');
legendLines.forEach((l, i) => {
  let ly = 71 + i * 21;
  legend.append('line')
    .attr('x1', 613).attr('x2', 655).attr('y1', ly).attr('y2', ly)
    .attr('stroke', l[1]).attr('stroke-width', 3.5)
    .attr('stroke-dasharray', l[2]);
  legend.append('text')
    .attr('x', 667).attr('y', ly + 7)
    .attr('font-size', 20)
    .text(l[0]);
});
legendSources.forEach((s, i) => {
  legend.append('text')
    .attr('x', 655).attr('y', 147 + i * 23.3)
    .attr('font-size', 20)
    .attr('fill', s[1])
    .text(s[0]);
});
</script>
</body>
</html>
